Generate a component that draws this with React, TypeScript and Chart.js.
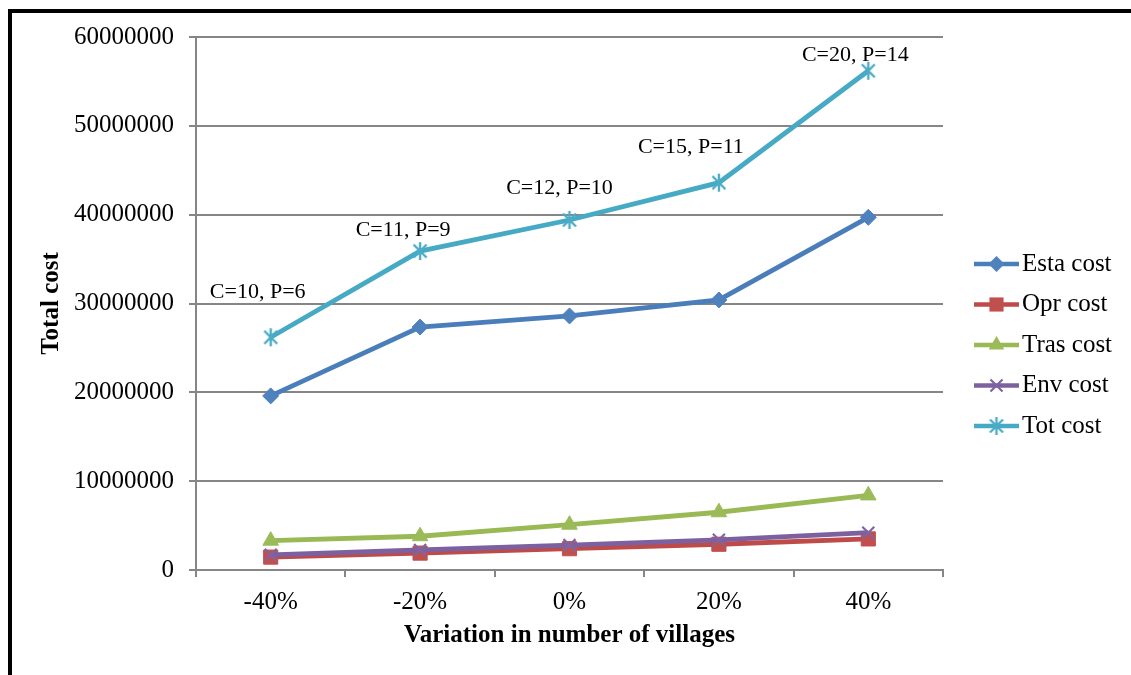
import React, { useEffect, useRef } from 'react';
import { Chart, registerables } from 'chart.js';

Chart.register(...registerables);

const categories = ['-40%', '-20%', '0%', '20%', '40%'];
const estaCost = [19600000, 27350000, 28600000, 30400000, 39700000];
const oprCost = [1450000, 1900000, 2400000, 2900000, 3500000];
const trasCost = [3300000, 3800000, 5100000, 6500000, 8400000];
const envCost = [1700000, 2250000, 2800000, 3400000, 4200000];
const totCost = [26200000, 35900000, 39400000, 43600000, 56200000];
const seriesNames = ['Esta cost', 'Opr cost', 'Tras cost', 'Env cost', 'Tot cost'];
const totLabels = ['C=10, P=6', 'C=11, P=9', 'C=12, P=10', 'C=15, P=11', 'C=20, P=14'];
const yMin = 0;
const yMax = 60000000;
const yStep = 10000000;

const FONT = "'Liberation Serif', 'Times New Roman', serif";
const GRID = '#868686';

const seriesStyles = [
  { line: '#4A7EBB', fill: '#4F81BD', marker: 'rectRot', radius: 8 },
  { line: '#BE4B48', fill: '#C0504D', marker: 'rect', radius: 10 },
  { line: '#98B954', fill: '#9BBB59', marker: 'triangle', radius: 9 },
  { line: '#7D60A0', fill: '#8064A2', marker: 'crossRot', radius: 8.5 },
  { line: '#46AAC5', fill: '#4BACC6', marker: 'asterisk', radius: 9 },
];

// label offsets (pixels) relative to the Tot cost points
const labelOffsets = [
  [-13, -45],
  [-17, -21],
  [-10, -32],
  [-28, -35],
  [-13, -16],
];

function makeAsterisk(color: string, r: number) {
  const size = Math.ceil(r * 2 + 4);
  const c = document.createElement('canvas');
  c.width = size;
  c.height = size;
  const ctx = c.getContext('2d')!;
  const cx = size / 2;
  const cy = size / 2;
  ctx.strokeStyle = color;
  ctx.lineWidth = 2.4;
  ctx.lineCap = 'butt';
  ctx.beginPath();
  ctx.moveTo(cx, cy - r);
  ctx.lineTo(cx, cy + r);
  const dx = r * 0.72;
  const dy = r * 0.72;
  ctx.moveTo(cx - dx, cy - dy);
  ctx.lineTo(cx + dx, cy + dy);
  ctx.moveTo(cx + dx, cy - dy);
  ctx.lineTo(cx - dx, cy + dy);
  ctx.stroke();
  return c;
}

function drawMarker(ctx: CanvasRenderingContext2D, style: string, x: number, y: number, r: number, color: string, img?: HTMLCanvasElement) {
  ctx.save();
  ctx.fillStyle = color;
  ctx.strokeStyle = color;
  ctx.lineWidth = 2.2;
  ctx.beginPath();
  if (style === 'rectRot') {
    ctx.moveTo(x, y - r);
    ctx.lineTo(x + r, y);
    ctx.lineTo(x, y + r);
    ctx.lineTo(x - r, y);
    ctx.closePath();
    ctx.fill();
  } else if (style === 'rect') {
    const s = r * Math.SQRT1_2;
    ctx.rect(x - s, y - s, 2 * s, 2 * s);
    ctx.fill();
  } else if (style === 'triangle') {
    const a = (2 * Math.PI) / 3;
    ctx.moveTo(x, y - r);
    ctx.lineTo(x + Math.sin(a) * r, y - Math.cos(a) * r);
    ctx.lineTo(x + Math.sin(2 * a) * r, y - Math.cos(2 * a) * r);
    ctx.closePath();
    ctx.fill();
  } else if (style === 'crossRot') {
    const d = r * Math.SQRT1_2;
    ctx.moveTo(x - d, y - d);
    ctx.lineTo(x + d, y + d);
    ctx.moveTo(x + d, y - d);
    ctx.lineTo(x - d, y + d);
    ctx.stroke();
  } else if (img) {
    ctx.drawImage(img, x - img.width / 2, y - img.height / 2);
  }
  ctx.restore();
}

export default function App() {
  const ref = useRef<HTMLCanvasElement | null>(null);

  useEffect(() => {
    if (!ref.current) return;
    const asterisk = makeAsterisk(seriesStyles[4].fill, seriesStyles[4].radius);

    const overlayPlugin = {
      id: 'overlay',
      afterDatasetsDraw(chart: any) {
        const ctx: CanvasRenderingContext2D = chart.ctx;
        const meta = chart.getDatasetMeta(4);
        ctx.save();
        ctx.font = `22px ${FONT}`;
        ctx.fillStyle = '#000';
        ctx.textAlign = 'center';
        ctx.textBaseline = 'middle';
        meta.data.forEach((pt: any, i: number) => {
          ctx.fillText(totLabels[i], pt.x + labelOffsets[i][0], pt.y + labelOffsets[i][1]);
        });
        ctx.restore();

        const lx0 = 974;
        const lx1 = 1019;
        const top = 264;
        const gap = 40.5;
        ctx.save();
        seriesNames.forEach((name, i) => {
          const st = seriesStyles[i];
          const y = top + i * gap;
          ctx.strokeStyle = st.line;
          ctx.lineWidth = 4.5;
          ctx.lineCap = 'butt';
          ctx.beginPath();
          ctx.moveTo(lx0, y);
          ctx.lineTo(lx1, y);
          ctx.stroke();
          drawMarker(ctx, st.marker, (lx0 + lx1) / 2, y, st.radius, st.fill, asterisk);
          ctx.font = `25px ${FONT}`;
          ctx.fillStyle = '#000';
          ctx.textAlign = 'left';
          ctx.textBaseline = 'middle';
          ctx.fillText(name, 1022, y);
        });
        ctx.restore();
      },
    };

    const allData = [estaCost, oprCost, trasCost, envCost, totCost];
    const chart = new Chart(ref.current, {
      type: 'line',
      data: {
        labels: categories,
        datasets: allData.map((d, i) => ({
          label: seriesNames[i],
          data: d,
          borderColor: seriesStyles[i].line,
          backgroundColor: seriesStyles[i].fill,
          pointBackgroundColor: seriesStyles[i].fill,
          pointBorderColor: seriesStyles[i].fill,
          pointStyle: (i === 4 ? asterisk : seriesStyles[i].marker) as any,
          pointRadius: seriesStyles[i].radius,
          pointBorderWidth: i >= 3 ? 2.2 : 1,
          borderWidth: 4.8,
          tension: 0,
          fill: false,
          order: 5 - i,
        })),
      },
      options: {
        animation: false,
        responsive: false,
        maintainAspectRatio: false,
        layout: { padding: { left: 0, top: 37, right: 188, bottom: 0 } },
        plugins: {
          legend: { display: false },
          tooltip: { enabled: false },
        },
        scales: {
          x: {
            type: 'category',
            offset: true,
            grid: {
              display: true,
              drawOnChartArea: false,
              drawTicks: true,
              tickLength: 7,
              offset: true,
              color: GRID,
              lineWidth: 2,
            },
            border: { display: true, color: GRID, width: 2 },
            ticks: {
              color: '#000',
              font: { family: FONT, size: 25 },
              padding: 10,
              maxRotation: 0,
            },
            title: {
              display: true,
              text: 'Variation in number of villages',
              color: '#000',
              font: { family: FONT, size: 25, weight: 'bold' },
              padding: { top: 0, bottom: 24 },
            },
            afterFit(scale: any) {
              scale.height = 105;
            },
          },
          y: {
            min: yMin,
            max: yMax,
            ticks: {
              stepSize: yStep,
              color: '#000',
              font: { family: FONT, size: 25 },
              padding: 15,
              callback: (v: any) => String(v),
            },
            grid: {
              color: GRID,
              lineWidth: 2,
              drawTicks: true,
              tickLength: 7,
            },
            border: { display: true, color: GRID, width: 2 },
            title: {
              display: true,
              text: 'Total cost',
              color: '#000',
              font: { family: FONT, size: 25, weight: 'bold' },
              padding: { top: 37, bottom: 0 },
            },
            afterFit(scale: any) {
              scale.width = 196;
            },
          },
        },
      },
      plugins: [overlayPlugin],
    });
    return () => chart.destroy();
  }, []);

  return (
    <div
      style={{
        position: 'fixed',
        left: 0,
        top: 0,
        width: 1131,
        height: 675,
        overflow: 'hidden',
        background: '#fff',
      }}
    >
      <canvas ref={ref} width={1131} height={675} style={{ position: 'absolute', left: 0, top: 0, width: 1131, height: 675 }} />
      <div
        style={{
          position: 'absolute',
          left: 8,
          top: 9,
          width: 1300,
          height: 900,
          borderLeft: '4px solid #000',
          borderTop: '4px solid #000',
          pointerEvents: 'none',
        }}
      />
    </div>
  );
}
